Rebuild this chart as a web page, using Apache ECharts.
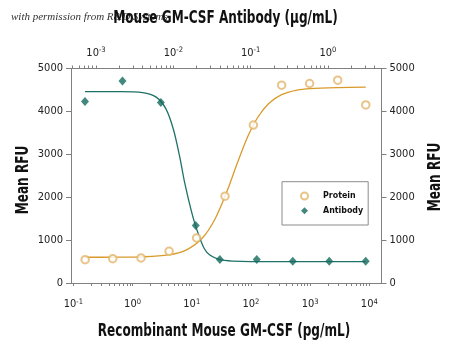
<!DOCTYPE html>
<html><head><meta charset="utf-8">
<script src="https://cdn.jsdelivr.net/npm/echarts@6/dist/echarts.min.js"></script>
<style>html,body{margin:0;padding:0;background:#fff}#c{width:450px;height:347px}</style>
</head><body><div id="c"></div>
<script>
// ---- data ----
const proteinConc = [0.158, 0.463, 1.39, 4.14, 12.1, 36.5, 110, 330, 980, 2925, 8720]; // pg/mL
const proteinRFU  = [544, 568, 584, 738, 1051, 2023, 3682, 4610, 4650, 4727, 4150];
const antibodyConc = [0.00072, 0.0022, 0.0069, 0.0195, 0.040, 0.120, 0.351, 1.04, 3.08]; // µg/mL
const antibodyRFU  = [4229, 4710, 4206, 1339, 550, 550, 505, 505, 505];
const proteinFitConc = [0.158, 0.5, 1.5, 4, 8, 15, 25, 40, 60, 90, 130, 200, 330, 600, 1000, 3000, 8720];
const proteinFitRFU  = [600, 602, 611, 654, 766, 1042, 1505, 2160, 2825, 3436, 3858, 4183, 4390, 4497, 4533, 4556, 4565];
const antibodyFitConc = [0.00072, 0.002, 0.004, 0.006, 0.008, 0.01, 0.012, 0.014, 0.017, 0.02, 0.025, 0.03, 0.04, 0.06, 0.1, 0.3, 1, 3.08];
const antibodyFitRFU  = [4460, 4459, 4436, 4332, 4064, 3589, 2973, 2347, 1700, 1260, 810, 645, 545, 510, 500, 500, 500, 500];
const bottomLabels = [0.1, 1, 10, 100, 1000, 10000];
const topLabels = [0.001, 0.01, 0.1, 1];
const yTicks = [0, 1000, 2000, 3000, 4000, 5000];
const legendNames = ['Protein', 'Antibody'];

// ---- styling ----
const FONT = '"Liberation Sans Narrow","DejaVu Sans Condensed","Arial Narrow",sans-serif';
const AXIS = '#808080';
const ORANGE_LINE = '#D99A2B', ORANGE_PT = '#E2B56A';
const TEAL_LINE = '#1F7268', TEAL_PT = '#146A5E';
const SQ = 0.79; // horizontal condensing of the bold titles

function minorTicks(d0, d1, lo, hi) {
  const out = [];
  for (let d = d0; d <= d1; d++) for (let k = 1; k <= 9; k++) {
    const v = k * Math.pow(10, d);
    if (v >= lo && v <= hi) out.push(v);
  }
  return out;
}
const pair = (xs, ys) => xs.map((x, i) => [x, ys[i]]);
function supFmt(v) { return '{b|10}{s|' + Math.round(Math.log10(v)) + '}'; }
const richLab = {
  b: { fontFamily: FONT, fontSize: 11, color: '#222', lineHeight: 13 },
  s: { fontFamily: FONT, fontSize: 7.5, color: '#222', lineHeight: 8, verticalAlign: 'top' }
};

const bMin = 0.0912, bMax = 16070, tMin = 0.000475, tMax = 4.93;

const chart = echarts.init(document.getElementById('c'), null, { renderer: 'canvas' });
chart.setOption({
  animation: false,
  backgroundColor: '#fff',
  grid: { left: 71, right: 68.5, top: 68.5, bottom: 64, show: false },
  xAxis: [
    { type: 'log', logBase: 10, position: 'bottom', min: bMin, max: bMax,
      axisLine: { show: true, onZero: false, lineStyle: { color: AXIS, width: 1 } },
      axisTick: { show: true, length: 3, customValues: minorTicks(-2, 4, bMin, bMax), lineStyle: { color: AXIS } },
      axisLabel: { customValues: bottomLabels, formatter: supFmt, rich: richLab, margin: 15 },
      splitLine: { show: false }, minorTick: { show: false } },
    { type: 'log', logBase: 10, position: 'top', min: tMin, max: tMax,
      axisLine: { show: true, onZero: false, lineStyle: { color: AXIS, width: 1 } },
      axisTick: { show: true, length: 3, customValues: minorTicks(-4, 0, tMin, tMax), lineStyle: { color: AXIS } },
      axisLabel: { customValues: topLabels, formatter: supFmt, rich: richLab, margin: 9 },
      splitLine: { show: false } }
  ],
  yAxis: [
    { type: 'value', position: 'left', min: 0, max: 5000, interval: 1000,
      axisLine: { show: true, onZero: false, lineStyle: { color: AXIS } },
      axisTick: { show: true, length: 5, lineStyle: { color: AXIS }, customValues: yTicks },
      axisLabel: { fontFamily: FONT, fontSize: 11, color: '#222', margin: 8, customValues: yTicks, formatter: v => String(v) },
      splitLine: { show: false } },
    { type: 'value', position: 'right', min: 0, max: 5000, interval: 1000,
      axisLine: { show: true, onZero: false, lineStyle: { color: AXIS } },
      axisTick: { show: true, length: 5, lineStyle: { color: AXIS }, customValues: yTicks },
      axisLabel: { fontFamily: FONT, fontSize: 11, color: '#222', margin: 8, customValues: yTicks, formatter: v => String(v) },
      splitLine: { show: false } }
  ],
  legend: {
    orient: 'vertical', left: 282, top: 181.7,
    data: [{ name: legendNames[0], icon: 'emptyCircle' }, { name: legendNames[1], icon: 'diamond' }],
    itemWidth: 7, itemHeight: 7, itemGap: 2.7,
    padding: [8.3, 5, 8.3, 18],
    borderColor: '#8a8a8a', borderWidth: 1, backgroundColor: '#fff',
    textStyle: { fontFamily: FONT, fontWeight: 'bold', fontSize: 8.8, color: '#111', padding: [0, 0, 0, 10], lineHeight: 12 }
  },
  series: [
    { name: 'ProteinFit', type: 'line', xAxisIndex: 0, yAxisIndex: 0, data: pair(proteinFitConc, proteinFitRFU),
      smooth: 0.3, showSymbol: false, symbol: 'none', silent: true,
      lineStyle: { color: ORANGE_LINE, width: 1.3 }, z: 2 },
    { name: 'AntibodyFit', type: 'line', xAxisIndex: 1, yAxisIndex: 0, data: pair(antibodyFitConc, antibodyFitRFU),
      smooth: 0.3, showSymbol: false, symbol: 'none', silent: true,
      lineStyle: { color: TEAL_LINE, width: 1.3 }, z: 2 },
    { name: legendNames[0], type: 'scatter', xAxisIndex: 0, yAxisIndex: 0, data: pair(proteinConc, proteinRFU),
      symbol: 'emptyCircle', symbolSize: 7.5,
      itemStyle: { color: ORANGE_PT, borderColor: ORANGE_PT, borderWidth: 1 }, z: 3 },
    { name: legendNames[1], type: 'scatter', xAxisIndex: 1, yAxisIndex: 0, data: pair(antibodyConc, antibodyRFU),
      symbol: 'diamond', symbolSize: [8, 9],
      itemStyle: { color: TEAL_PT }, z: 4 }
  ],
  graphic: [
    { type: 'text', x: 11, y: 17, z: 1,
      style: { text: 'with permission from R&D Systems', font: 'italic 11px "Liberation Serif","DejaVu Serif",serif',
               fill: '#333', align: 'left', verticalAlign: 'middle' } },
    { type: 'text', x: 225.5, y: 18.5, z: 10, scaleX: SQ,
      style: { text: 'Mouse GM-CSF Antibody (μg/mL)', font: 'bold 17px ' + FONT, fill: '#111',
               align: 'center', verticalAlign: 'middle' } },
    { type: 'text', x: 224, y: 331.5, z: 10, scaleX: SQ,
      style: { text: 'Recombinant Mouse GM-CSF (pg/mL)', font: 'bold 17px ' + FONT, fill: '#111',
               align: 'center', verticalAlign: 'middle' } },
    { type: 'text', x: 24, y: 180, rotation: Math.PI / 2, scaleX: SQ, z: 10,
      style: { text: 'Mean RFU', font: 'bold 17px ' + FONT, fill: '#111', align: 'center', verticalAlign: 'middle' } },
    { type: 'text', x: 436, y: 177, rotation: Math.PI / 2, scaleX: SQ, z: 10,
      style: { text: 'Mean RFU', font: 'bold 17px ' + FONT, fill: '#111', align: 'center', verticalAlign: 'middle' } }
  ]
});
</script>
</body></html>
